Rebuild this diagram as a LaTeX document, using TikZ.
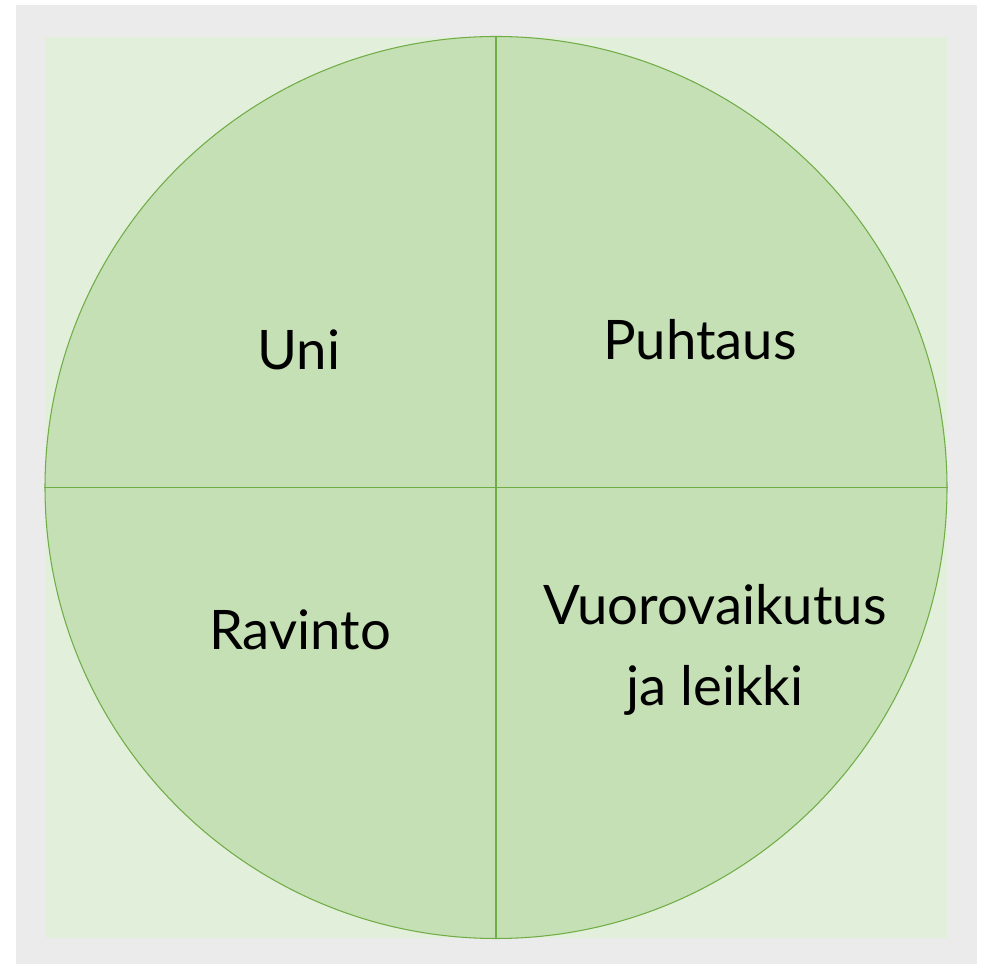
\documentclass[tikz,border=0pt]{standalone}
\usepackage{fontspec}
\setmainfont{Lato}
\usetikzlibrary{positioning}
\definecolor{FrameGray}{HTML}{EBEBEB}
\definecolor{PaleGreen}{HTML}{E2EFDA}
\definecolor{WheelGreen}{HTML}{C5E0B4}
\definecolor{LineGreen}{HTML}{70AD47}
\begin{document}
\begin{tikzpicture}[x=1cm,y=1cm,every node/.style={font=\fontsize{31}{46}\selectfont},
    label/.style={align=center,text=black}]
  \useasboundingbox (0,0) rectangle (19.68,19.28);
  \fill[FrameGray] (0.32,0) rectangle (19.54,19.18);
  \fill[PaleGreen] (0.90,0.52) rectangle (18.94,18.54);

  \node[circle,draw=LineGreen,fill=WheelGreen,line width=0.6pt,inner sep=0pt,minimum size=18.04cm] (wheel) at (9.92,9.53) {};
  \draw[LineGreen,line width=0.6pt] (wheel.north) -- (wheel.south);
  \draw[LineGreen,line width=0.6pt] (wheel.west) -- (wheel.east);

  \node[label] (uni) at (5.98,12.28) {Uni};
  \node[label] (puhtaus) at (14.0,12.48) {Puhtaus};
  \node[label] (ravinto) at (6.0,6.68) {Ravinto};
  \node[label] (vuoro) at (14.3,6.28) {Vuorovaikutus\\ja leikki};
\end{tikzpicture}
\end{document}
